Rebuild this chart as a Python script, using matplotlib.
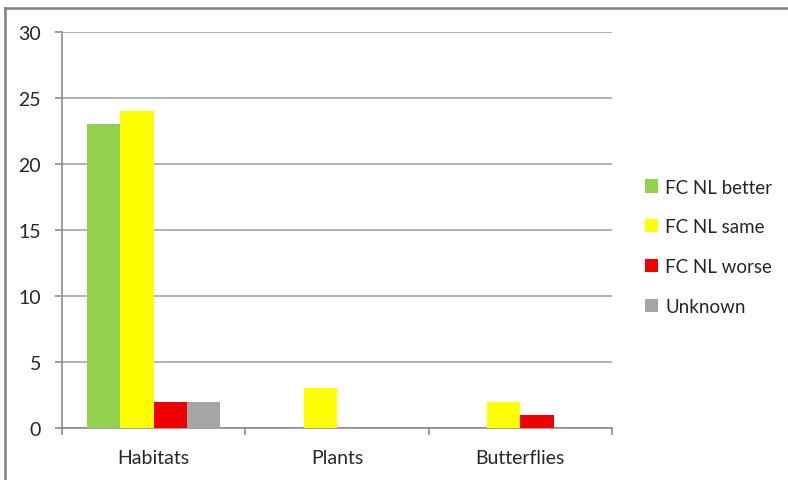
import matplotlib
matplotlib.use("Agg")
import matplotlib.pyplot as plt
from matplotlib.lines import Line2D
from matplotlib.patches import Patch
import numpy as np

categories = ["Habitats", "Plants", "Butterflies"]
series_names = ["FC NL better", "FC NL same", "FC NL worse", "Unknown"]
fc_better = [23, 0, 0]
fc_same = [24, 3, 2]
fc_worse = [2, 0, 1]
unknown = [2, 0, 0]
colors = ["#92d050", "#ffff00", "#ee0000", "#a5a5a5"]
y_ticks = [0, 5, 10, 15, 20, 25, 30]

plt.rcParams["font.family"] = ["Lato", "DejaVu Sans"]

W, H = 788, 481
fig = plt.figure(figsize=(W / 100, H / 100), dpi=100)
ax = fig.add_axes([62 / W, 1 - 429 / H, 550 / W, 396 / H])

x = np.arange(len(categories))
width = 0.182
series = [fc_better, fc_same, fc_worse, unknown]
for i, (vals, col, name) in enumerate(zip(series, colors, series_names)):
    offs = (i - 1.5) * width
    ax.bar(x + offs, vals, width=width, color=col, label=name, zorder=3,
           linewidth=0)

ax.set_xlim(-0.5, len(categories) - 0.5)
ax.set_ylim(0, 30)
ax.set_yticks(y_ticks)
ax.set_yticklabels([str(v) for v in y_ticks])
ax.yaxis.grid(True, color="#a6a6a6", linewidth=1.2, zorder=0)
ax.set_axisbelow(True)

# category labels centred, tick marks on the category boundaries
ax.set_xticks(np.arange(-0.5, len(categories), 1.0))
ax.set_xticklabels([])
ax.set_xticks(x, minor=True)
ax.set_xticklabels(categories, minor=True)
ax.tick_params(axis="x", which="minor", length=0, pad=15, labelsize=14,
               labelcolor="#262626")
ax.tick_params(axis="x", which="major", length=5, width=1.2, color="#8c8c8c",
               direction="out")
ax.tick_params(axis="y", length=5, width=1.2, color="#8c8c8c", pad=10,
               labelsize=14, labelcolor="#262626")

for side in ["top", "right"]:
    ax.spines[side].set_visible(False)
for side in ["left", "bottom"]:
    ax.spines[side].set_color("#8c8c8c")
    ax.spines[side].set_linewidth(1.2)

handles = [Patch(facecolor=c, edgecolor="none") for c in colors]
leg = fig.legend(handles, series_names, loc="upper left",
                 bbox_to_anchor=(637 / W, 1 - 172 / H), frameon=False,
                 fontsize=13.5, handlelength=0.7, handleheight=0.7,
                 handletextpad=0.4, labelspacing=1.22, borderaxespad=0)
for t in leg.get_texts():
    t.set_color("#262626")

# outer chart border (top and left edges visible)
fig.add_artist(Line2D([4.5 / W, 1.0], [1 - 8.5 / H, 1 - 8.5 / H],
                      transform=fig.transFigure, color="#808080", linewidth=1.8))
fig.add_artist(Line2D([4.5 / W, 4.5 / W], [0.0, 1 - 8.5 / H],
                      transform=fig.transFigure, color="#808080", linewidth=1.8))

fig.savefig("out.png", dpi=100)
